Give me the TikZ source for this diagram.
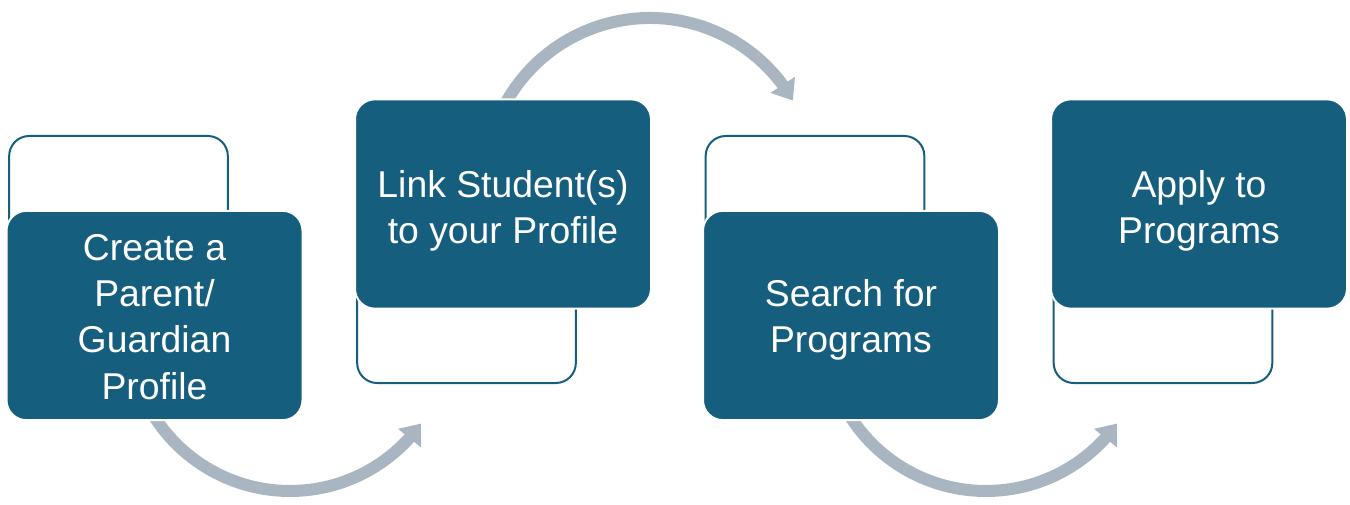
\documentclass[tikz,border=0pt]{standalone}
\usepackage{fontspec}
\setmainfont{Liberation Sans}
\usetikzlibrary{arrows.meta,bending}
\definecolor{boxblue}{HTML}{165E7E}
\definecolor{arrowgray}{HTML}{A9B5C1}
\begin{document}
\begin{tikzpicture}[x=0.75pt,y=0.75pt,
  stepbox/.style={rectangle,rounded corners=15pt,fill=boxblue,draw=white,line width=1.5pt,
    minimum width=222pt,minimum height=157pt,inner sep=0pt},
  steptext/.style={text=white,align=center,inner sep=0pt,
    font=\fontsize{28}{34.7}\selectfont},
  ghostbox/.style={rectangle,rounded corners=15pt,draw=boxblue,line width=1.5pt,fill=white,
    minimum width=164pt,minimum height=123pt,inner sep=0pt},
  flowarrow/.style={draw=arrowgray,line width=9pt,-{Triangle[width=21pt,length=14pt]}}]
\useasboundingbox (0,0) rectangle (1350,504);
% outline boxes (behind)
\node[ghostbox] (g1) at (118.5,286) {};
\node[ghostbox] (g2) at (466.5,203) {};
\node[ghostbox] (g3) at (815,286) {};
\node[ghostbox] (g4) at (1163,203) {};
% arrows
\coordinate (a1s) at ({290+161*cos(210)},{174+161*sin(210)});
\coordinate (a2s) at ({650+165*cos(155)},{321+165*sin(155)});
\coordinate (a3s) at ({986+161*cos(210)},{174+161*sin(210)});
\draw[flowarrow] (a1s) arc[start angle=210,end angle=324.5,radius=161];
\draw[flowarrow] (a2s) arc[start angle=155,end angle=30,radius=165];
\draw[flowarrow] (a3s) arc[start angle=210,end angle=324.5,radius=161];
% filled boxes
\node[stepbox] (b1) at (154.5,188.5) {};
\node[stepbox] (b2) at (503,300) {};
\node[stepbox] (b3) at (851,188.5) {};
\node[stepbox] (b4) at (1199,300) {};
\node[steptext] (t1) at ([yshift=-1]b1.center) {Create a\\Parent/\\Guardian\\Profile};
\node[steptext] (t2) at ([yshift=-5]b2.center) {Link Student(s)\\to your Profile};
\node[steptext] (t3) at ([yshift=-3]b3.center) {Search for\\Programs};
\node[steptext] (t4) at ([yshift=-5]b4.center) {Apply to\\Programs};
\end{tikzpicture}
\end{document}
